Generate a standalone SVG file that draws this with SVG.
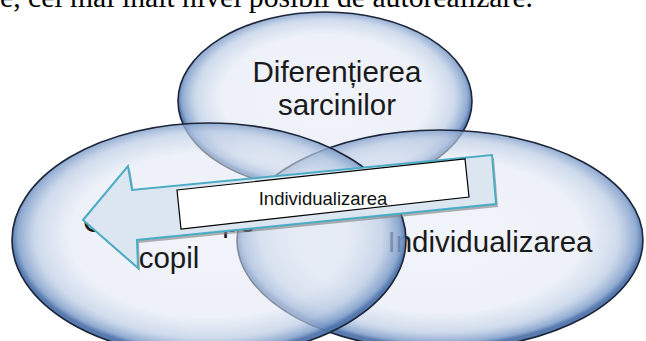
<svg xmlns="http://www.w3.org/2000/svg" width="646" height="341" viewBox="0 0 646 341">
<style>
.bub{fill:url(#bg);stroke:#1d2639;stroke-width:1.6}
.lbl{font-family:"Liberation Sans","Open Sans",Arial,sans-serif;font-size:29.5px;fill:#1a1a1a;text-anchor:middle}
.hdr{font-family:"Liberation Serif","Times New Roman",serif;font-size:29.7px;fill:#000}
.box{font-family:"Liberation Sans","Open Sans",Arial,sans-serif;font-size:18.5px;fill:#111;text-anchor:middle}
</style>
<defs>
<radialGradient id="bg" cx="50%" cy="48%" r="50%">
<stop offset="0" stop-color="#e3eaf5" stop-opacity="0.5"/>
<stop offset="0.7" stop-color="#dfe6f2" stop-opacity="0.55"/>
<stop offset="0.88" stop-color="#b9cae3" stop-opacity="0.7"/>
<stop offset="0.97" stop-color="#7d9cc9" stop-opacity="0.85"/>
<stop offset="1" stop-color="#4f73ab" stop-opacity="0.95"/>
</radialGradient>
</defs>
<rect width="646" height="341" fill="#fff"/>
<text class="hdr" x="0" y="7" textLength="533" lengthAdjust="spacingAndGlyphs">e, cel mai înalt nivel posibil de autorealizare.</text>
<g id="node-top">
<ellipse class="bub" cx="325" cy="101" rx="147" ry="89"/>
</g>
<g id="node-right">
<ellipse class="bub" cx="440" cy="240" rx="203" ry="110"/>
<text class="lbl" x="490" y="252">Individualizarea</text>
</g>
<g id="node-left">
<ellipse class="bub" cx="209" cy="240" rx="197" ry="117"/>
<text class="lbl" x="169" y="232">Centrarea pe</text>
<text class="lbl" x="169" y="268">copil</text>
</g>
<g id="node-top-label">
<text class="lbl" x="337" y="82">Diferențierea</text>
<text class="lbl" x="337" y="115">sarcinilor</text>
</g>
<g id="connectors">
<polygon points="85,223 130,169 134,193 494,158 498,207 139,243 140,271" fill="#7f7f7f" opacity="0.6"/>
<polygon points="83,220 128,166 132,190 492,155 496,204 137,240 138,268" fill="#dce6f1" stroke="#4bacc6" stroke-width="2" stroke-linejoin="miter"/>
<polygon points="177,190 465,159 469,197 181,229" fill="#fff" stroke="#000" stroke-width="1.2"/>
<text class="box" x="323" y="205">Individualizarea</text>
</g>
</svg>
